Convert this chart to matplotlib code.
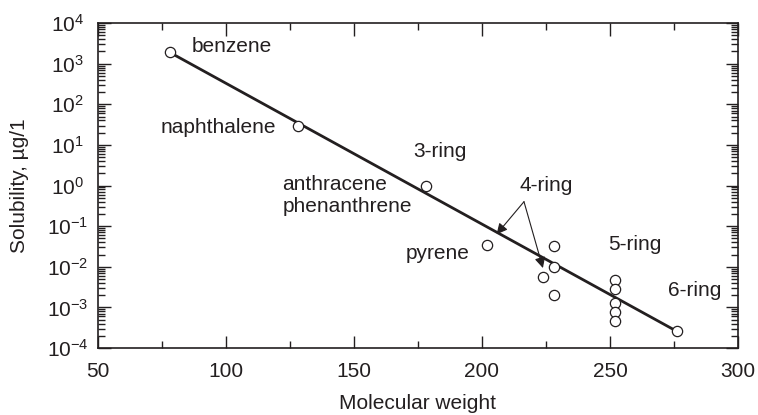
import matplotlib
matplotlib.use("Agg")
import matplotlib.pyplot as plt
from matplotlib.ticker import MultipleLocator, LogLocator, NullFormatter

plt.rcParams["font.family"] = ["Liberation Sans", "DejaVu Sans"]
plt.rcParams["mathtext.default"] = "regular"

INK = "#231f20"

# molecular weight vs aqueous solubility of aromatic hydrocarbons
mw = [78, 128, 178, 202, 228, 228, 224, 228, 252, 252, 252, 252, 252, 276]
solubility = [1900, 30, 1.0, 0.034, 0.032, 0.010, 0.0056, 0.002,
              0.0047, 0.0029, 0.00125, 0.00075, 0.00046, 0.00026]

# regression line end points
fit_mw = [78, 276]
fit_solubility = [1900, 0.00026]

# text labels: (text, x, y, horizontal alignment)
labels = [
    ("benzene", 86.7, 2700, "left"),
    ("naphthalene", 119.5, 27, "right"),
    ("3-ring", 183.6, 6.8, "center"),
    ("anthracene", 122, 1.08, "left"),
    ("phenanthrene", 122, 0.30, "left"),
    ("pyrene", 170, 0.0213, "left"),
    ("4-ring", 214.8, 1.02, "left"),
    ("5-ring", 249.2, 0.036, "left"),
    ("6-ring", 272.7, 0.00265, "left"),
]

# 4-ring pointer arrows
arrow_origin = (216.4, 0.40)
arrow_heads = [(205.7, 0.063), (223.8, 0.0093)]

fig = plt.figure(figsize=(7.58, 4.15), dpi=100)
ax = fig.add_axes([0.1293, 0.1614, 0.8443, 0.7831])

ax.plot(fit_mw, fit_solubility, color=INK, lw=2.0, zorder=2)
ax.plot(mw, solubility, "o", ms=7.4, mfc="white", mec=INK, mew=0.9, zorder=3)

for text, x, y, ha in labels:
    ax.text(x, y, text, ha=ha, va="center", fontsize=15, color=INK)

for head in arrow_heads:
    ax.annotate("", xy=head, xytext=arrow_origin,
                arrowprops=dict(arrowstyle="-|>", lw=0.8, color=INK,
                                mutation_scale=16, shrinkA=0, shrinkB=0))

ax.set_yscale("log")
ax.set_xlim(50, 300)
ax.set_ylim(1e-4, 1e4)

ax.xaxis.set_major_locator(MultipleLocator(50))
ax.xaxis.set_minor_locator(MultipleLocator(25))
ax.yaxis.set_major_locator(LogLocator(base=10, numticks=20))
ax.yaxis.set_minor_locator(LogLocator(base=10, subs=range(2, 10), numticks=20))
ax.yaxis.set_minor_formatter(NullFormatter())

ax.tick_params(which="both", direction="in", top=True, right=True,
               colors=INK, labelsize=15, width=1.0)
ax.tick_params(which="major", length=9)
ax.tick_params(which="minor", length=5)
ax.tick_params(axis="x", pad=10)
ax.tick_params(axis="y", pad=22)
for lab in ax.get_yticklabels():
    lab.set_horizontalalignment("center")

for spine in ax.spines.values():
    spine.set_color(INK)
    spine.set_linewidth(1.2)

ax.set_xlabel("Molecular weight", fontsize=15, color=INK, va="center")
ax.set_ylabel("Solubility, µg/1", fontsize=15, color=INK, va="center")
ax.xaxis.set_label_coords(0.5, -0.170)
ax.yaxis.set_label_coords(-0.1227, 0.5)

fig.savefig("out.png", dpi=100)
